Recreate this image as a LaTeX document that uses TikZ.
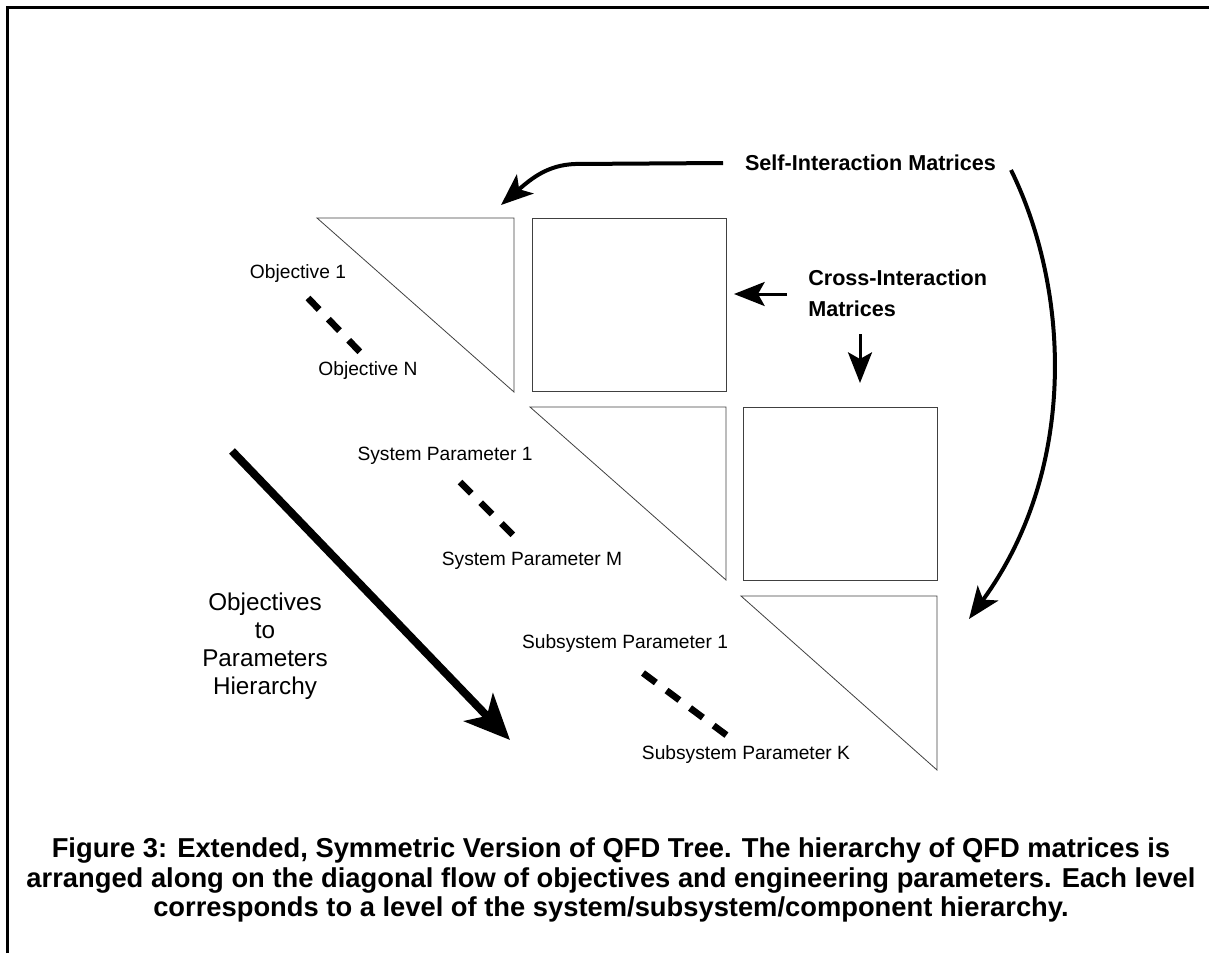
\documentclass[tikz,border=0pt]{standalone}
\usepackage{fontspec}
\setmainfont{Liberation Sans}
\usetikzlibrary{arrows.meta}

\tikzset{
	tri/.style={draw=black!75, line width=0.6pt},
	mat/.style={draw=black!75, line width=0.6pt},
	lbl/.style={inner sep=0pt, font=\fontsize{14.4pt}{17pt}\selectfont},
	boldlbl/.style={inner sep=0pt, font=\fontsize{16.2pt}{23pt}\selectfont\bfseries, align=left},
	dashline/.style={line width=5pt, dash pattern=on 12pt off 10pt},
	bigarrow/.style={line width=6pt, -{Stealth[length=34pt, width=30pt, inset=9pt]}},
	selfarrow/.style={line width=3pt, -{Stealth[length=24pt, width=19pt, inset=6pt]}},
	crossarrow/.style={line width=2.25pt, -{Stealth[length=23pt, width=18pt, inset=5pt]}}
}

\begin{document}
\begin{tikzpicture}[x=0.75pt, y=-0.75pt]
	\useasboundingbox (0,0) rectangle (1209,953);
	\draw [line width=2pt] (7.5,953) -- (7.5,7.5) -- (1209,7.5);

	\foreach \l/\t/\r/\b in {317/218/514/392, 530/407/726/580, 741/596/937/770}
		\draw [tri] (\l,\t) -- (\r,\t) -- (\r,\b) -- cycle;
	\foreach \l/\t/\r/\b in {532/218/726/391, 743/407/937/580}
		\draw [mat] (\l,\t) rectangle (\r,\b);

	\node (obj1) [lbl] at (298,274) {Objective 1};
	\node (objN) [lbl] at (368,371) {Objective N};
	\node (sys1) [lbl] at (445,456) {System Parameter 1};
	\node (sysM) [lbl] at (532,561) {System Parameter M};
	\node (sub1) [lbl] at (625,644) {Subsystem Parameter 1};
	\node (subK) [lbl] at (746,755) {Subsystem Parameter K};

	\coordinate (obj1a) at (308,298);
	\coordinate (obj1b) at (360,352);
	\coordinate (sys1a) at (460,482);
	\coordinate (sys1b) at (516,538);
	\coordinate (sub1a) at (643,673);
	\coordinate (sub1b) at (729,737);
	\draw [dashline] (obj1a) -- (obj1b);
	\draw [dashline] (sys1a) -- (sys1b);
	\draw [dashline] (sub1a) -- (sub1b);

	\node (hier) [inner sep=0pt, align=center, font=\fontsize{18.2pt}{21pt}\selectfont] at (265,646) {Objectives\\to\\Parameters\\Hierarchy};
	\coordinate (hiera) at (232,451);
	\coordinate (hierb) at (510,740);
	\draw [bigarrow] (hiera) -- (hierb);

	\node (self) [boldlbl] at (870.5,163) {Self-Interaction Matrices};
	\coordinate (selfa) at (723,163);
	\coordinate (selfb) at (1011,170);
	\coordinate (tri1) at (501,205);
	\coordinate (tri3) at (969,619);
	\draw [selfarrow] (selfa) -- (575,164) .. controls (548,165) and (532,178) .. (tri1);
	\draw [selfarrow] (selfb) .. controls (1070,290) and (1078,470) .. (tri3);

	\node (cross) [boldlbl, anchor=west] at (808,293.5) {Cross-Interaction\\Matrices};
	\coordinate (crossa) at (787,294);
	\coordinate (mat1) at (734,294);
	\coordinate (crossb) at (860,334);
	\coordinate (mat2) at (860,383);
	\draw [crossarrow] (crossa) -- (mat1);
	\draw [crossarrow] (crossb) -- (mat2);

	\node (caption) [inner sep=0pt, align=center, font=\fontsize{20.5pt}{22.3pt}\selectfont\bfseries] at (611,880) {Figure 3: Extended, Symmetric Version of QFD Tree. The hierarchy of QFD matrices is\\arranged along on the diagonal flow of objectives and engineering parameters. Each level\\corresponds to a level of the system/subsystem/component hierarchy.};
\end{tikzpicture}
\end{document}
